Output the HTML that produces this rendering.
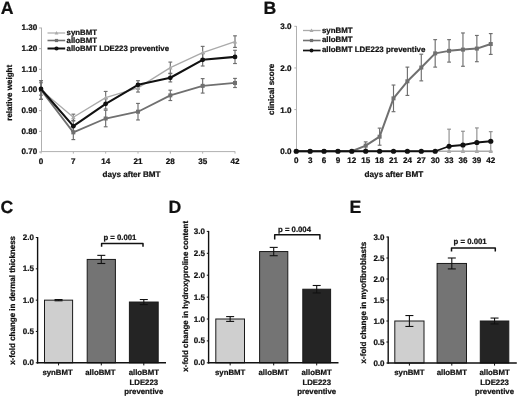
<!DOCTYPE html>
<html><head><meta charset="utf-8"><style>
html,body{margin:0;padding:0;background:#fff;width:520px;height:398px;overflow:hidden}
svg{display:block;font-family:"Liberation Sans", sans-serif;will-change:transform}
text{stroke:#111;stroke-width:0.22px;text-rendering:geometricPrecision}
</style></head><body>
<svg width="520" height="398" viewBox="0 0 520 398">
<rect width="520" height="398" fill="#fff"/>
<text x="0.80" y="13.80" font-size="17.7" text-anchor="start" fill="#111" font-weight="bold" >A</text>
<line x1="41.50" y1="27.68" x2="41.50" y2="151.90" stroke="#b0b0b0" stroke-width="1" />
<line x1="41.50" y1="151.60" x2="235.20" y2="151.60" stroke="#b0b0b0" stroke-width="1" />
<line x1="39.00" y1="152.00" x2="41.50" y2="152.00" stroke="#b0b0b0" stroke-width="1" />
<text x="37.30" y="154.20" font-size="8.1" text-anchor="end" fill="#111" font-weight="bold" >0.70</text>
<line x1="39.00" y1="131.33" x2="41.50" y2="131.33" stroke="#b0b0b0" stroke-width="1" />
<text x="37.30" y="133.53" font-size="8.1" text-anchor="end" fill="#111" font-weight="bold" >0.80</text>
<line x1="39.00" y1="110.66" x2="41.50" y2="110.66" stroke="#b0b0b0" stroke-width="1" />
<text x="37.30" y="112.86" font-size="8.1" text-anchor="end" fill="#111" font-weight="bold" >0.90</text>
<line x1="39.00" y1="89.99" x2="41.50" y2="89.99" stroke="#b0b0b0" stroke-width="1" />
<text x="37.30" y="92.19" font-size="8.1" text-anchor="end" fill="#111" font-weight="bold" >1.00</text>
<line x1="39.00" y1="69.32" x2="41.50" y2="69.32" stroke="#b0b0b0" stroke-width="1" />
<text x="37.30" y="71.52" font-size="8.1" text-anchor="end" fill="#111" font-weight="bold" >1.10</text>
<line x1="39.00" y1="48.65" x2="41.50" y2="48.65" stroke="#b0b0b0" stroke-width="1" />
<text x="37.30" y="50.85" font-size="8.1" text-anchor="end" fill="#111" font-weight="bold" >1.20</text>
<line x1="39.00" y1="27.98" x2="41.50" y2="27.98" stroke="#b0b0b0" stroke-width="1" />
<text x="37.30" y="30.18" font-size="8.1" text-anchor="end" fill="#111" font-weight="bold" >1.30</text>
<line x1="41.00" y1="151.60" x2="41.00" y2="153.60" stroke="#b0b0b0" stroke-width="1" />
<text x="41.00" y="163.60" font-size="8.1" text-anchor="middle" fill="#111" font-weight="bold" >0</text>
<line x1="73.33" y1="151.60" x2="73.33" y2="153.60" stroke="#b0b0b0" stroke-width="1" />
<text x="73.33" y="163.60" font-size="8.1" text-anchor="middle" fill="#111" font-weight="bold" >7</text>
<line x1="105.67" y1="151.60" x2="105.67" y2="153.60" stroke="#b0b0b0" stroke-width="1" />
<text x="105.67" y="163.60" font-size="8.1" text-anchor="middle" fill="#111" font-weight="bold" >14</text>
<line x1="138.00" y1="151.60" x2="138.00" y2="153.60" stroke="#b0b0b0" stroke-width="1" />
<text x="138.00" y="163.60" font-size="8.1" text-anchor="middle" fill="#111" font-weight="bold" >21</text>
<line x1="170.33" y1="151.60" x2="170.33" y2="153.60" stroke="#b0b0b0" stroke-width="1" />
<text x="170.33" y="163.60" font-size="8.1" text-anchor="middle" fill="#111" font-weight="bold" >28</text>
<line x1="202.67" y1="151.60" x2="202.67" y2="153.60" stroke="#b0b0b0" stroke-width="1" />
<text x="202.67" y="163.60" font-size="8.1" text-anchor="middle" fill="#111" font-weight="bold" >35</text>
<line x1="235.00" y1="151.60" x2="235.00" y2="153.60" stroke="#b0b0b0" stroke-width="1" />
<text x="235.00" y="163.60" font-size="8.1" text-anchor="middle" fill="#111" font-weight="bold" >42</text>
<text x="131.50" y="176.80" font-size="8.1" text-anchor="middle" fill="#111" font-weight="bold" >days after BMT</text>
<text x="0.00" y="0.00" font-size="8.05" text-anchor="middle" fill="#111" font-weight="bold" transform="translate(12.2,92.8) rotate(-90)">relative weight</text>
<line x1="41.00" y1="80.69" x2="41.00" y2="99.29" stroke="#6e6e6e" stroke-width="1.15" />
<line x1="39.10" y1="80.69" x2="42.90" y2="80.69" stroke="#6e6e6e" stroke-width="1.15" />
<line x1="39.10" y1="99.29" x2="42.90" y2="99.29" stroke="#6e6e6e" stroke-width="1.15" />
<line x1="73.33" y1="114.17" x2="73.33" y2="120.37" stroke="#6e6e6e" stroke-width="1.15" />
<line x1="71.43" y1="114.17" x2="75.23" y2="114.17" stroke="#6e6e6e" stroke-width="1.15" />
<line x1="71.43" y1="120.37" x2="75.23" y2="120.37" stroke="#6e6e6e" stroke-width="1.15" />
<line x1="105.67" y1="91.44" x2="105.67" y2="103.84" stroke="#6e6e6e" stroke-width="1.15" />
<line x1="103.77" y1="91.44" x2="107.57" y2="91.44" stroke="#6e6e6e" stroke-width="1.15" />
<line x1="103.77" y1="103.84" x2="107.57" y2="103.84" stroke="#6e6e6e" stroke-width="1.15" />
<line x1="138.00" y1="83.79" x2="138.00" y2="92.06" stroke="#6e6e6e" stroke-width="1.15" />
<line x1="136.10" y1="83.79" x2="139.90" y2="83.79" stroke="#6e6e6e" stroke-width="1.15" />
<line x1="136.10" y1="92.06" x2="139.90" y2="92.06" stroke="#6e6e6e" stroke-width="1.15" />
<line x1="170.33" y1="62.09" x2="170.33" y2="73.25" stroke="#6e6e6e" stroke-width="1.15" />
<line x1="168.43" y1="62.09" x2="172.23" y2="62.09" stroke="#6e6e6e" stroke-width="1.15" />
<line x1="168.43" y1="73.25" x2="172.23" y2="73.25" stroke="#6e6e6e" stroke-width="1.15" />
<line x1="202.67" y1="46.38" x2="202.67" y2="58.78" stroke="#6e6e6e" stroke-width="1.15" />
<line x1="200.77" y1="46.38" x2="204.57" y2="46.38" stroke="#6e6e6e" stroke-width="1.15" />
<line x1="200.77" y1="58.78" x2="204.57" y2="58.78" stroke="#6e6e6e" stroke-width="1.15" />
<line x1="235.00" y1="35.83" x2="235.00" y2="47.41" stroke="#6e6e6e" stroke-width="1.15" />
<line x1="233.10" y1="35.83" x2="236.90" y2="35.83" stroke="#6e6e6e" stroke-width="1.15" />
<line x1="233.10" y1="47.41" x2="236.90" y2="47.41" stroke="#6e6e6e" stroke-width="1.15" />
<line x1="41.00" y1="80.69" x2="41.00" y2="99.29" stroke="#6e6e6e" stroke-width="1.15" />
<line x1="39.10" y1="80.69" x2="42.90" y2="80.69" stroke="#6e6e6e" stroke-width="1.15" />
<line x1="39.10" y1="99.29" x2="42.90" y2="99.29" stroke="#6e6e6e" stroke-width="1.15" />
<line x1="73.33" y1="125.13" x2="73.33" y2="139.60" stroke="#6e6e6e" stroke-width="1.15" />
<line x1="71.43" y1="125.13" x2="75.23" y2="125.13" stroke="#6e6e6e" stroke-width="1.15" />
<line x1="71.43" y1="139.60" x2="75.23" y2="139.60" stroke="#6e6e6e" stroke-width="1.15" />
<line x1="105.67" y1="110.25" x2="105.67" y2="126.78" stroke="#6e6e6e" stroke-width="1.15" />
<line x1="103.77" y1="110.25" x2="107.57" y2="110.25" stroke="#6e6e6e" stroke-width="1.15" />
<line x1="103.77" y1="126.78" x2="107.57" y2="126.78" stroke="#6e6e6e" stroke-width="1.15" />
<line x1="138.00" y1="103.43" x2="138.00" y2="119.96" stroke="#6e6e6e" stroke-width="1.15" />
<line x1="136.10" y1="103.43" x2="139.90" y2="103.43" stroke="#6e6e6e" stroke-width="1.15" />
<line x1="136.10" y1="119.96" x2="139.90" y2="119.96" stroke="#6e6e6e" stroke-width="1.15" />
<line x1="170.33" y1="90.20" x2="170.33" y2="100.53" stroke="#6e6e6e" stroke-width="1.15" />
<line x1="168.43" y1="90.20" x2="172.23" y2="90.20" stroke="#6e6e6e" stroke-width="1.15" />
<line x1="168.43" y1="100.53" x2="172.23" y2="100.53" stroke="#6e6e6e" stroke-width="1.15" />
<line x1="202.67" y1="78.62" x2="202.67" y2="93.09" stroke="#6e6e6e" stroke-width="1.15" />
<line x1="200.77" y1="78.62" x2="204.57" y2="78.62" stroke="#6e6e6e" stroke-width="1.15" />
<line x1="200.77" y1="93.09" x2="204.57" y2="93.09" stroke="#6e6e6e" stroke-width="1.15" />
<line x1="235.00" y1="78.41" x2="235.00" y2="87.51" stroke="#6e6e6e" stroke-width="1.15" />
<line x1="233.10" y1="78.41" x2="236.90" y2="78.41" stroke="#6e6e6e" stroke-width="1.15" />
<line x1="233.10" y1="87.51" x2="236.90" y2="87.51" stroke="#6e6e6e" stroke-width="1.15" />
<line x1="41.00" y1="82.76" x2="41.00" y2="95.16" stroke="#6e6e6e" stroke-width="1.15" />
<line x1="39.10" y1="82.76" x2="42.90" y2="82.76" stroke="#6e6e6e" stroke-width="1.15" />
<line x1="39.10" y1="95.16" x2="42.90" y2="95.16" stroke="#6e6e6e" stroke-width="1.15" />
<line x1="73.33" y1="121.00" x2="73.33" y2="131.33" stroke="#6e6e6e" stroke-width="1.15" />
<line x1="71.43" y1="121.00" x2="75.23" y2="121.00" stroke="#6e6e6e" stroke-width="1.15" />
<line x1="71.43" y1="131.33" x2="75.23" y2="131.33" stroke="#6e6e6e" stroke-width="1.15" />
<line x1="105.67" y1="98.67" x2="105.67" y2="109.01" stroke="#6e6e6e" stroke-width="1.15" />
<line x1="103.77" y1="98.67" x2="107.57" y2="98.67" stroke="#6e6e6e" stroke-width="1.15" />
<line x1="103.77" y1="109.01" x2="107.57" y2="109.01" stroke="#6e6e6e" stroke-width="1.15" />
<line x1="138.00" y1="80.69" x2="138.00" y2="88.96" stroke="#6e6e6e" stroke-width="1.15" />
<line x1="136.10" y1="80.69" x2="139.90" y2="80.69" stroke="#6e6e6e" stroke-width="1.15" />
<line x1="136.10" y1="88.96" x2="139.90" y2="88.96" stroke="#6e6e6e" stroke-width="1.15" />
<line x1="170.33" y1="73.66" x2="170.33" y2="81.93" stroke="#6e6e6e" stroke-width="1.15" />
<line x1="168.43" y1="73.66" x2="172.23" y2="73.66" stroke="#6e6e6e" stroke-width="1.15" />
<line x1="168.43" y1="81.93" x2="172.23" y2="81.93" stroke="#6e6e6e" stroke-width="1.15" />
<line x1="202.67" y1="53.61" x2="202.67" y2="66.01" stroke="#6e6e6e" stroke-width="1.15" />
<line x1="200.77" y1="53.61" x2="204.57" y2="53.61" stroke="#6e6e6e" stroke-width="1.15" />
<line x1="200.77" y1="66.01" x2="204.57" y2="66.01" stroke="#6e6e6e" stroke-width="1.15" />
<line x1="235.00" y1="50.30" x2="235.00" y2="63.53" stroke="#6e6e6e" stroke-width="1.15" />
<line x1="233.10" y1="50.30" x2="236.90" y2="50.30" stroke="#6e6e6e" stroke-width="1.15" />
<line x1="233.10" y1="63.53" x2="236.90" y2="63.53" stroke="#6e6e6e" stroke-width="1.15" />
<polyline points="41.00,89.99 73.33,117.27 105.67,97.64 138.00,87.92 170.33,67.67 202.67,52.58 235.00,41.62" fill="none" stroke="#aaaaaa" stroke-width="1.3" stroke-linejoin="round"/>
<path d="M38.80,91.75 L43.20,91.75 L41.00,87.79 Z" fill="#aaaaaa"/>
<path d="M71.13,119.03 L75.53,119.03 L73.33,115.07 Z" fill="#aaaaaa"/>
<path d="M103.47,99.40 L107.87,99.40 L105.67,95.44 Z" fill="#aaaaaa"/>
<path d="M135.80,89.68 L140.20,89.68 L138.00,85.72 Z" fill="#aaaaaa"/>
<path d="M168.13,69.43 L172.53,69.43 L170.33,65.47 Z" fill="#aaaaaa"/>
<path d="M200.47,54.34 L204.87,54.34 L202.67,50.38 Z" fill="#aaaaaa"/>
<path d="M232.80,43.38 L237.20,43.38 L235.00,39.42 Z" fill="#aaaaaa"/>
<polyline points="41.00,89.99 73.33,132.36 105.67,118.51 138.00,111.69 170.33,95.36 202.67,85.86 235.00,82.96" fill="none" stroke="#707070" stroke-width="1.8" stroke-linejoin="round"/>
<rect x="39.00" y="87.99" width="4.00" height="4.00" fill="#707070"/>
<rect x="71.33" y="130.36" width="4.00" height="4.00" fill="#707070"/>
<rect x="103.67" y="116.51" width="4.00" height="4.00" fill="#707070"/>
<rect x="136.00" y="109.69" width="4.00" height="4.00" fill="#707070"/>
<rect x="168.33" y="93.36" width="4.00" height="4.00" fill="#707070"/>
<rect x="200.67" y="83.86" width="4.00" height="4.00" fill="#707070"/>
<rect x="233.00" y="80.96" width="4.00" height="4.00" fill="#707070"/>
<polyline points="41.00,88.96 73.33,126.16 105.67,103.84 138.00,84.82 170.33,77.79 202.67,59.81 235.00,56.92" fill="none" stroke="#111111" stroke-width="2.1" stroke-linejoin="round"/>
<circle cx="41.00" cy="88.96" r="2.4" fill="#111111"/>
<circle cx="73.33" cy="126.16" r="2.4" fill="#111111"/>
<circle cx="105.67" cy="103.84" r="2.4" fill="#111111"/>
<circle cx="138.00" cy="84.82" r="2.4" fill="#111111"/>
<circle cx="170.33" cy="77.79" r="2.4" fill="#111111"/>
<circle cx="202.67" cy="59.81" r="2.4" fill="#111111"/>
<circle cx="235.00" cy="56.92" r="2.4" fill="#111111"/>
<line x1="47.50" y1="33.00" x2="65.20" y2="33.00" stroke="#aaaaaa" stroke-width="1.2" />
<path d="M54.60,34.52 L58.40,34.52 L56.50,31.10 Z" fill="#aaaaaa"/>
<text x="66.60" y="35.30" font-size="7.82" text-anchor="start" fill="#111" font-weight="bold" >synBMT</text>
<line x1="47.50" y1="40.50" x2="65.20" y2="40.50" stroke="#707070" stroke-width="1.6" />
<rect x="54.90" y="38.90" width="3.20" height="3.20" fill="#707070"/>
<text x="66.60" y="42.90" font-size="7.82" text-anchor="start" fill="#111" font-weight="bold" >alloBMT</text>
<line x1="47.50" y1="48.50" x2="65.20" y2="48.50" stroke="#111111" stroke-width="2.0" />
<circle cx="56.50" cy="48.50" r="2.1" fill="#111111"/>
<text x="66.60" y="50.70" font-size="7.82" text-anchor="start" fill="#111" font-weight="bold" >alloBMT LDE223 preventive</text>
<text x="263.50" y="13.80" font-size="17.7" text-anchor="start" fill="#111" font-weight="bold" >B</text>
<line x1="296.50" y1="26.00" x2="296.50" y2="151.50" stroke="#b0b0b0" stroke-width="1" />
<line x1="296.50" y1="151.50" x2="491.00" y2="151.50" stroke="#b0b0b0" stroke-width="1" />
<line x1="294.30" y1="151.25" x2="296.50" y2="151.25" stroke="#b0b0b0" stroke-width="1" />
<text x="291.50" y="154.15" font-size="8.1" text-anchor="end" fill="#111" font-weight="bold" >0.0</text>
<line x1="294.30" y1="109.60" x2="296.50" y2="109.60" stroke="#b0b0b0" stroke-width="1" />
<text x="291.50" y="112.50" font-size="8.1" text-anchor="end" fill="#111" font-weight="bold" >1.0</text>
<line x1="294.30" y1="67.95" x2="296.50" y2="67.95" stroke="#b0b0b0" stroke-width="1" />
<text x="291.50" y="70.85" font-size="8.1" text-anchor="end" fill="#111" font-weight="bold" >2.0</text>
<line x1="294.30" y1="26.30" x2="296.50" y2="26.30" stroke="#b0b0b0" stroke-width="1" />
<text x="291.50" y="29.20" font-size="8.1" text-anchor="end" fill="#111" font-weight="bold" >3.0</text>
<text x="296.25" y="162.80" font-size="8.1" text-anchor="middle" fill="#111" font-weight="bold" >0</text>
<text x="310.14" y="162.80" font-size="8.1" text-anchor="middle" fill="#111" font-weight="bold" >3</text>
<text x="324.04" y="162.80" font-size="8.1" text-anchor="middle" fill="#111" font-weight="bold" >6</text>
<text x="337.93" y="162.80" font-size="8.1" text-anchor="middle" fill="#111" font-weight="bold" >9</text>
<text x="351.82" y="162.80" font-size="8.1" text-anchor="middle" fill="#111" font-weight="bold" >12</text>
<text x="365.71" y="162.80" font-size="8.1" text-anchor="middle" fill="#111" font-weight="bold" >15</text>
<text x="379.61" y="162.80" font-size="8.1" text-anchor="middle" fill="#111" font-weight="bold" >18</text>
<text x="393.50" y="162.80" font-size="8.1" text-anchor="middle" fill="#111" font-weight="bold" >21</text>
<text x="407.39" y="162.80" font-size="8.1" text-anchor="middle" fill="#111" font-weight="bold" >24</text>
<text x="421.29" y="162.80" font-size="8.1" text-anchor="middle" fill="#111" font-weight="bold" >27</text>
<text x="435.18" y="162.80" font-size="8.1" text-anchor="middle" fill="#111" font-weight="bold" >30</text>
<text x="449.07" y="162.80" font-size="8.1" text-anchor="middle" fill="#111" font-weight="bold" >33</text>
<text x="462.96" y="162.80" font-size="8.1" text-anchor="middle" fill="#111" font-weight="bold" >36</text>
<text x="476.86" y="162.80" font-size="8.1" text-anchor="middle" fill="#111" font-weight="bold" >39</text>
<text x="490.75" y="162.80" font-size="8.1" text-anchor="middle" fill="#111" font-weight="bold" >42</text>
<text x="393.90" y="176.80" font-size="8.2" text-anchor="middle" fill="#111" font-weight="bold" >days after BMT</text>
<text x="0.00" y="0.00" font-size="8.1" text-anchor="middle" fill="#111" font-weight="bold" transform="translate(274.2,89.3) rotate(-90)">clinical score</text>
<line x1="365.71" y1="141.88" x2="365.71" y2="149.38" stroke="#6e6e6e" stroke-width="1.15" />
<line x1="363.81" y1="141.88" x2="367.61" y2="141.88" stroke="#6e6e6e" stroke-width="1.15" />
<line x1="363.81" y1="149.38" x2="367.61" y2="149.38" stroke="#6e6e6e" stroke-width="1.15" />
<line x1="379.61" y1="128.13" x2="379.61" y2="145.21" stroke="#6e6e6e" stroke-width="1.15" />
<line x1="377.71" y1="128.13" x2="381.51" y2="128.13" stroke="#6e6e6e" stroke-width="1.15" />
<line x1="377.71" y1="145.21" x2="381.51" y2="145.21" stroke="#6e6e6e" stroke-width="1.15" />
<line x1="393.50" y1="85.03" x2="393.50" y2="111.68" stroke="#6e6e6e" stroke-width="1.15" />
<line x1="391.60" y1="85.03" x2="395.40" y2="85.03" stroke="#6e6e6e" stroke-width="1.15" />
<line x1="391.60" y1="111.68" x2="395.40" y2="111.68" stroke="#6e6e6e" stroke-width="1.15" />
<line x1="407.39" y1="67.12" x2="407.39" y2="95.44" stroke="#6e6e6e" stroke-width="1.15" />
<line x1="405.49" y1="67.12" x2="409.29" y2="67.12" stroke="#6e6e6e" stroke-width="1.15" />
<line x1="405.49" y1="95.44" x2="409.29" y2="95.44" stroke="#6e6e6e" stroke-width="1.15" />
<line x1="421.29" y1="54.21" x2="421.29" y2="80.86" stroke="#6e6e6e" stroke-width="1.15" />
<line x1="419.39" y1="54.21" x2="423.19" y2="54.21" stroke="#6e6e6e" stroke-width="1.15" />
<line x1="419.39" y1="80.86" x2="423.19" y2="80.86" stroke="#6e6e6e" stroke-width="1.15" />
<line x1="435.18" y1="39.63" x2="435.18" y2="67.12" stroke="#6e6e6e" stroke-width="1.15" />
<line x1="433.28" y1="39.63" x2="437.08" y2="39.63" stroke="#6e6e6e" stroke-width="1.15" />
<line x1="433.28" y1="67.12" x2="437.08" y2="67.12" stroke="#6e6e6e" stroke-width="1.15" />
<line x1="449.07" y1="39.63" x2="449.07" y2="62.12" stroke="#6e6e6e" stroke-width="1.15" />
<line x1="447.17" y1="39.63" x2="450.97" y2="39.63" stroke="#6e6e6e" stroke-width="1.15" />
<line x1="447.17" y1="62.12" x2="450.97" y2="62.12" stroke="#6e6e6e" stroke-width="1.15" />
<line x1="462.96" y1="32.96" x2="462.96" y2="66.28" stroke="#6e6e6e" stroke-width="1.15" />
<line x1="461.06" y1="32.96" x2="464.86" y2="32.96" stroke="#6e6e6e" stroke-width="1.15" />
<line x1="461.06" y1="66.28" x2="464.86" y2="66.28" stroke="#6e6e6e" stroke-width="1.15" />
<line x1="476.86" y1="35.46" x2="476.86" y2="61.70" stroke="#6e6e6e" stroke-width="1.15" />
<line x1="474.96" y1="35.46" x2="478.76" y2="35.46" stroke="#6e6e6e" stroke-width="1.15" />
<line x1="474.96" y1="61.70" x2="478.76" y2="61.70" stroke="#6e6e6e" stroke-width="1.15" />
<line x1="490.75" y1="33.59" x2="490.75" y2="54.41" stroke="#6e6e6e" stroke-width="1.15" />
<line x1="488.85" y1="33.59" x2="492.65" y2="33.59" stroke="#6e6e6e" stroke-width="1.15" />
<line x1="488.85" y1="54.41" x2="492.65" y2="54.41" stroke="#6e6e6e" stroke-width="1.15" />
<line x1="449.07" y1="129.18" x2="449.07" y2="151.25" stroke="#8e8e8e" stroke-width="1.15" />
<line x1="447.17" y1="129.18" x2="450.97" y2="129.18" stroke="#8e8e8e" stroke-width="1.15" />
<line x1="447.17" y1="151.25" x2="450.97" y2="151.25" stroke="#8e8e8e" stroke-width="1.15" />
<line x1="462.96" y1="131.26" x2="462.96" y2="151.25" stroke="#8e8e8e" stroke-width="1.15" />
<line x1="461.06" y1="131.26" x2="464.86" y2="131.26" stroke="#8e8e8e" stroke-width="1.15" />
<line x1="461.06" y1="151.25" x2="464.86" y2="151.25" stroke="#8e8e8e" stroke-width="1.15" />
<line x1="476.86" y1="127.93" x2="476.86" y2="151.25" stroke="#8e8e8e" stroke-width="1.15" />
<line x1="474.96" y1="127.93" x2="478.76" y2="127.93" stroke="#8e8e8e" stroke-width="1.15" />
<line x1="474.96" y1="151.25" x2="478.76" y2="151.25" stroke="#8e8e8e" stroke-width="1.15" />
<line x1="490.75" y1="131.67" x2="490.75" y2="151.25" stroke="#8e8e8e" stroke-width="1.15" />
<line x1="488.85" y1="131.67" x2="492.65" y2="131.67" stroke="#8e8e8e" stroke-width="1.15" />
<line x1="488.85" y1="151.25" x2="492.65" y2="151.25" stroke="#8e8e8e" stroke-width="1.15" />
<polyline points="296.25,151.25 310.14,151.25 324.04,151.25 337.93,151.25 351.82,151.25 365.71,151.25 379.61,151.25 393.50,151.25 407.39,151.25 421.29,151.25 435.18,151.25 449.07,151.25 462.96,151.25 476.86,151.25 490.75,151.25" fill="none" stroke="#aaaaaa" stroke-width="1.4" stroke-linejoin="round"/>
<path d="M294.05,153.01 L298.45,153.01 L296.25,149.05 Z" fill="#aaaaaa"/>
<path d="M307.94,153.01 L312.34,153.01 L310.14,149.05 Z" fill="#aaaaaa"/>
<path d="M321.84,153.01 L326.24,153.01 L324.04,149.05 Z" fill="#aaaaaa"/>
<path d="M335.73,153.01 L340.13,153.01 L337.93,149.05 Z" fill="#aaaaaa"/>
<path d="M349.62,153.01 L354.02,153.01 L351.82,149.05 Z" fill="#aaaaaa"/>
<path d="M363.51,153.01 L367.91,153.01 L365.71,149.05 Z" fill="#aaaaaa"/>
<path d="M377.41,153.01 L381.81,153.01 L379.61,149.05 Z" fill="#aaaaaa"/>
<path d="M391.30,153.01 L395.70,153.01 L393.50,149.05 Z" fill="#aaaaaa"/>
<path d="M405.19,153.01 L409.59,153.01 L407.39,149.05 Z" fill="#aaaaaa"/>
<path d="M419.09,153.01 L423.49,153.01 L421.29,149.05 Z" fill="#aaaaaa"/>
<path d="M432.98,153.01 L437.38,153.01 L435.18,149.05 Z" fill="#aaaaaa"/>
<path d="M446.87,153.01 L451.27,153.01 L449.07,149.05 Z" fill="#aaaaaa"/>
<path d="M460.76,153.01 L465.16,153.01 L462.96,149.05 Z" fill="#aaaaaa"/>
<path d="M474.66,153.01 L479.06,153.01 L476.86,149.05 Z" fill="#aaaaaa"/>
<path d="M488.55,153.01 L492.95,153.01 L490.75,149.05 Z" fill="#aaaaaa"/>
<polyline points="296.25,151.25 310.14,151.25 324.04,151.25 337.93,151.25 351.82,151.25 365.71,145.63 379.61,136.67 393.50,98.35 407.39,81.28 421.29,67.53 435.18,53.37 449.07,50.87 462.96,49.62 476.86,48.58 490.75,44.00" fill="none" stroke="#707070" stroke-width="2" stroke-linejoin="round"/>
<rect x="294.25" y="149.25" width="4.00" height="4.00" fill="#707070"/>
<rect x="308.14" y="149.25" width="4.00" height="4.00" fill="#707070"/>
<rect x="322.04" y="149.25" width="4.00" height="4.00" fill="#707070"/>
<rect x="335.93" y="149.25" width="4.00" height="4.00" fill="#707070"/>
<rect x="349.82" y="149.25" width="4.00" height="4.00" fill="#707070"/>
<rect x="363.71" y="143.63" width="4.00" height="4.00" fill="#707070"/>
<rect x="377.61" y="134.67" width="4.00" height="4.00" fill="#707070"/>
<rect x="391.50" y="96.35" width="4.00" height="4.00" fill="#707070"/>
<rect x="405.39" y="79.28" width="4.00" height="4.00" fill="#707070"/>
<rect x="419.29" y="65.53" width="4.00" height="4.00" fill="#707070"/>
<rect x="433.18" y="51.37" width="4.00" height="4.00" fill="#707070"/>
<rect x="447.07" y="48.87" width="4.00" height="4.00" fill="#707070"/>
<rect x="460.96" y="47.62" width="4.00" height="4.00" fill="#707070"/>
<rect x="474.86" y="46.58" width="4.00" height="4.00" fill="#707070"/>
<rect x="488.75" y="42.00" width="4.00" height="4.00" fill="#707070"/>
<polyline points="296.25,151.25 310.14,151.25 324.04,151.25 337.93,151.25 351.82,151.25 365.71,151.25 379.61,151.25 393.50,151.25 407.39,151.25 421.29,151.25 435.18,151.25 449.07,146.25 462.96,145.00 476.86,142.50 490.75,141.25" fill="none" stroke="#111111" stroke-width="1.8" stroke-linejoin="round"/>
<circle cx="296.25" cy="151.25" r="2.6" fill="#111111"/>
<circle cx="310.14" cy="151.25" r="2.6" fill="#111111"/>
<circle cx="324.04" cy="151.25" r="2.6" fill="#111111"/>
<circle cx="337.93" cy="151.25" r="2.6" fill="#111111"/>
<circle cx="351.82" cy="151.25" r="2.6" fill="#111111"/>
<circle cx="365.71" cy="151.25" r="2.6" fill="#111111"/>
<circle cx="379.61" cy="151.25" r="2.6" fill="#111111"/>
<circle cx="393.50" cy="151.25" r="2.6" fill="#111111"/>
<circle cx="407.39" cy="151.25" r="2.6" fill="#111111"/>
<circle cx="421.29" cy="151.25" r="2.6" fill="#111111"/>
<circle cx="435.18" cy="151.25" r="2.6" fill="#111111"/>
<circle cx="449.07" cy="146.25" r="2.6" fill="#111111"/>
<circle cx="462.96" cy="145.00" r="2.6" fill="#111111"/>
<circle cx="476.86" cy="142.50" r="2.6" fill="#111111"/>
<circle cx="490.75" cy="141.25" r="2.6" fill="#111111"/>
<line x1="303.00" y1="30.50" x2="320.60" y2="30.50" stroke="#aaaaaa" stroke-width="1.3" />
<path d="M309.50,32.10 L313.50,32.10 L311.50,28.50 Z" fill="#aaaaaa"/>
<text x="321.90" y="32.70" font-size="7.9" text-anchor="start" fill="#111" font-weight="bold" >synBMT</text>
<line x1="303.00" y1="40.50" x2="320.60" y2="40.50" stroke="#707070" stroke-width="1.6" />
<rect x="309.90" y="38.90" width="3.20" height="3.20" fill="#707070"/>
<text x="321.90" y="42.10" font-size="7.9" text-anchor="start" fill="#111" font-weight="bold" >alloBMT</text>
<line x1="303.00" y1="50.50" x2="320.60" y2="50.50" stroke="#111111" stroke-width="1.7" />
<circle cx="311.50" cy="50.50" r="1.9" fill="#111111"/>
<text x="321.90" y="52.20" font-size="7.9" text-anchor="start" fill="#111" font-weight="bold" >alloBMT LDE223 preventive</text>
<text x="0.60" y="213.10" font-size="17.7" text-anchor="start" fill="#111" font-weight="bold" >C</text>
<rect x="44.50" y="300.15" width="28.10" height="62.65" fill="#cfcfcf" stroke="#1a1a1a" stroke-width="1"/>
<rect x="87.20" y="259.43" width="28.20" height="103.37" fill="#747474" stroke="#1a1a1a" stroke-width="1"/>
<rect x="129.40" y="302.03" width="28.80" height="60.77" fill="#242424" stroke="#1a1a1a" stroke-width="1"/>
<line x1="58.55" y1="299.52" x2="58.55" y2="300.78" stroke="#111" stroke-width="1.1" />
<line x1="54.55" y1="299.52" x2="62.55" y2="299.52" stroke="#111" stroke-width="1.1" />
<line x1="54.55" y1="300.78" x2="62.55" y2="300.78" stroke="#111" stroke-width="1.1" />
<line x1="101.30" y1="255.36" x2="101.30" y2="263.50" stroke="#111" stroke-width="1.1" />
<line x1="97.30" y1="255.36" x2="105.30" y2="255.36" stroke="#111" stroke-width="1.1" />
<line x1="97.30" y1="263.50" x2="105.30" y2="263.50" stroke="#111" stroke-width="1.1" />
<line x1="143.80" y1="299.52" x2="143.80" y2="304.54" stroke="#111" stroke-width="1.1" />
<line x1="139.80" y1="299.52" x2="147.80" y2="299.52" stroke="#111" stroke-width="1.1" />
<line x1="139.80" y1="304.54" x2="147.80" y2="304.54" stroke="#111" stroke-width="1.1" />
<line x1="37.60" y1="237.00" x2="37.60" y2="363.50" stroke="#111" stroke-width="1.4" />
<line x1="36.90" y1="362.80" x2="166.00" y2="362.80" stroke="#111" stroke-width="1.4" />
<line x1="35.80" y1="362.80" x2="37.60" y2="362.80" stroke="#111" stroke-width="1" />
<text x="33.90" y="365.30" font-size="8" text-anchor="end" fill="#111" font-weight="bold" >0.0</text>
<line x1="35.80" y1="331.48" x2="37.60" y2="331.48" stroke="#111" stroke-width="1" />
<text x="33.90" y="333.98" font-size="8" text-anchor="end" fill="#111" font-weight="bold" >0.5</text>
<line x1="35.80" y1="300.15" x2="37.60" y2="300.15" stroke="#111" stroke-width="1" />
<text x="33.90" y="302.65" font-size="8" text-anchor="end" fill="#111" font-weight="bold" >1.0</text>
<line x1="35.80" y1="268.83" x2="37.60" y2="268.83" stroke="#111" stroke-width="1" />
<text x="33.90" y="271.33" font-size="8" text-anchor="end" fill="#111" font-weight="bold" >1.5</text>
<line x1="35.80" y1="237.50" x2="37.60" y2="237.50" stroke="#111" stroke-width="1" />
<text x="33.90" y="240.00" font-size="8" text-anchor="end" fill="#111" font-weight="bold" >2.0</text>
<line x1="58.55" y1="362.80" x2="58.55" y2="365.40" stroke="#111" stroke-width="1" />
<line x1="101.30" y1="362.80" x2="101.30" y2="365.40" stroke="#111" stroke-width="1" />
<line x1="143.80" y1="362.80" x2="143.80" y2="365.40" stroke="#111" stroke-width="1" />
<path d="M101.60,246.80 L101.60,243.40 L143.00,243.40 L143.00,246.80" fill="none" stroke="#111" stroke-width="1.5" stroke-linejoin="round"/>
<text x="119.90" y="240.00" font-size="7.75" text-anchor="middle" fill="#111" font-weight="bold" >p = 0.001</text>
<text x="57.55" y="375.30" font-size="7.8" text-anchor="middle" fill="#111" font-weight="bold" >synBMT</text>
<text x="100.40" y="375.30" font-size="7.8" text-anchor="middle" fill="#111" font-weight="bold" >alloBMT</text>
<text x="143.80" y="375.30" font-size="7.8" text-anchor="middle" fill="#111" font-weight="bold" >alloBMT</text>
<text x="143.80" y="384.60" font-size="7.8" text-anchor="middle" fill="#111" font-weight="bold" >LDE223</text>
<text x="143.80" y="393.50" font-size="7.8" text-anchor="middle" fill="#111" font-weight="bold" >preventive</text>
<text x="0.00" y="0.00" font-size="8" text-anchor="middle" fill="#111" font-weight="bold" transform="translate(15.1,300.4) rotate(-90)">x-fold change in dermal thickness</text>
<text x="168.50" y="213.10" font-size="17.7" text-anchor="start" fill="#111" font-weight="bold" >D</text>
<rect x="215.80" y="319.00" width="28.70" height="43.80" fill="#cfcfcf" stroke="#1a1a1a" stroke-width="1"/>
<rect x="259.60" y="251.55" width="28.20" height="111.25" fill="#747474" stroke="#1a1a1a" stroke-width="1"/>
<rect x="302.80" y="289.22" width="27.80" height="73.58" fill="#242424" stroke="#1a1a1a" stroke-width="1"/>
<line x1="230.15" y1="316.59" x2="230.15" y2="321.41" stroke="#111" stroke-width="1.1" />
<line x1="226.15" y1="316.59" x2="234.15" y2="316.59" stroke="#111" stroke-width="1.1" />
<line x1="226.15" y1="321.41" x2="234.15" y2="321.41" stroke="#111" stroke-width="1.1" />
<line x1="273.70" y1="247.39" x2="273.70" y2="255.71" stroke="#111" stroke-width="1.1" />
<line x1="269.70" y1="247.39" x2="277.70" y2="247.39" stroke="#111" stroke-width="1.1" />
<line x1="269.70" y1="255.71" x2="277.70" y2="255.71" stroke="#111" stroke-width="1.1" />
<line x1="316.70" y1="285.49" x2="316.70" y2="292.94" stroke="#111" stroke-width="1.1" />
<line x1="312.70" y1="285.49" x2="320.70" y2="285.49" stroke="#111" stroke-width="1.1" />
<line x1="312.70" y1="292.94" x2="320.70" y2="292.94" stroke="#111" stroke-width="1.1" />
<line x1="208.60" y1="230.90" x2="208.60" y2="363.50" stroke="#111" stroke-width="1.4" />
<line x1="207.90" y1="362.80" x2="338.50" y2="362.80" stroke="#111" stroke-width="1.4" />
<line x1="206.80" y1="362.80" x2="208.60" y2="362.80" stroke="#111" stroke-width="1" />
<text x="204.90" y="365.30" font-size="8" text-anchor="end" fill="#111" font-weight="bold" >0.0</text>
<line x1="206.80" y1="340.90" x2="208.60" y2="340.90" stroke="#111" stroke-width="1" />
<text x="204.90" y="343.40" font-size="8" text-anchor="end" fill="#111" font-weight="bold" >0.5</text>
<line x1="206.80" y1="319.00" x2="208.60" y2="319.00" stroke="#111" stroke-width="1" />
<text x="204.90" y="321.50" font-size="8" text-anchor="end" fill="#111" font-weight="bold" >1.0</text>
<line x1="206.80" y1="297.10" x2="208.60" y2="297.10" stroke="#111" stroke-width="1" />
<text x="204.90" y="299.60" font-size="8" text-anchor="end" fill="#111" font-weight="bold" >1.5</text>
<line x1="206.80" y1="275.20" x2="208.60" y2="275.20" stroke="#111" stroke-width="1" />
<text x="204.90" y="277.70" font-size="8" text-anchor="end" fill="#111" font-weight="bold" >2.0</text>
<line x1="206.80" y1="253.30" x2="208.60" y2="253.30" stroke="#111" stroke-width="1" />
<text x="204.90" y="255.80" font-size="8" text-anchor="end" fill="#111" font-weight="bold" >2.5</text>
<line x1="206.80" y1="231.40" x2="208.60" y2="231.40" stroke="#111" stroke-width="1" />
<text x="204.90" y="233.90" font-size="8" text-anchor="end" fill="#111" font-weight="bold" >3.0</text>
<line x1="230.15" y1="362.80" x2="230.15" y2="365.40" stroke="#111" stroke-width="1" />
<line x1="273.70" y1="362.80" x2="273.70" y2="365.40" stroke="#111" stroke-width="1" />
<line x1="316.70" y1="362.80" x2="316.70" y2="365.40" stroke="#111" stroke-width="1" />
<path d="M274.70,239.60 L274.70,234.80 L319.90,234.80 L319.90,239.60" fill="none" stroke="#111" stroke-width="1.5" stroke-linejoin="round"/>
<text x="294.50" y="231.60" font-size="7.75" text-anchor="middle" fill="#111" font-weight="bold" >p = 0.004</text>
<text x="230.15" y="375.30" font-size="7.8" text-anchor="middle" fill="#111" font-weight="bold" >synBMT</text>
<text x="273.70" y="375.30" font-size="7.8" text-anchor="middle" fill="#111" font-weight="bold" >alloBMT</text>
<text x="316.70" y="375.30" font-size="7.8" text-anchor="middle" fill="#111" font-weight="bold" >alloBMT</text>
<text x="316.70" y="384.60" font-size="7.8" text-anchor="middle" fill="#111" font-weight="bold" >LDE223</text>
<text x="316.70" y="393.50" font-size="7.8" text-anchor="middle" fill="#111" font-weight="bold" >preventive</text>
<text x="0.00" y="0.00" font-size="7.92" text-anchor="middle" fill="#111" font-weight="bold" transform="translate(188.1,296.3) rotate(-90)">x-fold change in hydroxyproline content</text>
<text x="349.50" y="213.10" font-size="17.7" text-anchor="start" fill="#111" font-weight="bold" >E</text>
<rect x="394.80" y="321.00" width="29.20" height="42.00" fill="#cfcfcf" stroke="#1a1a1a" stroke-width="1"/>
<rect x="437.10" y="263.46" width="29.40" height="99.54" fill="#747474" stroke="#1a1a1a" stroke-width="1"/>
<rect x="480.30" y="321.00" width="28.50" height="42.00" fill="#242424" stroke="#1a1a1a" stroke-width="1"/>
<line x1="409.40" y1="315.54" x2="409.40" y2="326.46" stroke="#111" stroke-width="1.1" />
<line x1="405.40" y1="315.54" x2="413.40" y2="315.54" stroke="#111" stroke-width="1.1" />
<line x1="405.40" y1="326.46" x2="413.40" y2="326.46" stroke="#111" stroke-width="1.1" />
<line x1="451.80" y1="258.00" x2="451.80" y2="268.92" stroke="#111" stroke-width="1.1" />
<line x1="447.80" y1="258.00" x2="455.80" y2="258.00" stroke="#111" stroke-width="1.1" />
<line x1="447.80" y1="268.92" x2="455.80" y2="268.92" stroke="#111" stroke-width="1.1" />
<line x1="494.55" y1="318.06" x2="494.55" y2="323.94" stroke="#111" stroke-width="1.1" />
<line x1="490.55" y1="318.06" x2="498.55" y2="318.06" stroke="#111" stroke-width="1.1" />
<line x1="490.55" y1="323.94" x2="498.55" y2="323.94" stroke="#111" stroke-width="1.1" />
<line x1="388.20" y1="236.50" x2="388.20" y2="363.70" stroke="#111" stroke-width="1.4" />
<line x1="387.50" y1="363.00" x2="516.80" y2="363.00" stroke="#111" stroke-width="1.4" />
<line x1="386.40" y1="363.00" x2="388.20" y2="363.00" stroke="#111" stroke-width="1" />
<text x="384.50" y="365.50" font-size="8" text-anchor="end" fill="#111" font-weight="bold" >0.0</text>
<line x1="386.40" y1="342.00" x2="388.20" y2="342.00" stroke="#111" stroke-width="1" />
<text x="384.50" y="344.50" font-size="8" text-anchor="end" fill="#111" font-weight="bold" >0.5</text>
<line x1="386.40" y1="321.00" x2="388.20" y2="321.00" stroke="#111" stroke-width="1" />
<text x="384.50" y="323.50" font-size="8" text-anchor="end" fill="#111" font-weight="bold" >1.0</text>
<line x1="386.40" y1="300.00" x2="388.20" y2="300.00" stroke="#111" stroke-width="1" />
<text x="384.50" y="302.50" font-size="8" text-anchor="end" fill="#111" font-weight="bold" >1.5</text>
<line x1="386.40" y1="279.00" x2="388.20" y2="279.00" stroke="#111" stroke-width="1" />
<text x="384.50" y="281.50" font-size="8" text-anchor="end" fill="#111" font-weight="bold" >2.0</text>
<line x1="386.40" y1="258.00" x2="388.20" y2="258.00" stroke="#111" stroke-width="1" />
<text x="384.50" y="260.50" font-size="8" text-anchor="end" fill="#111" font-weight="bold" >2.5</text>
<line x1="386.40" y1="237.00" x2="388.20" y2="237.00" stroke="#111" stroke-width="1" />
<text x="384.50" y="239.50" font-size="8" text-anchor="end" fill="#111" font-weight="bold" >3.0</text>
<line x1="409.40" y1="363.00" x2="409.40" y2="365.60" stroke="#111" stroke-width="1" />
<line x1="451.80" y1="363.00" x2="451.80" y2="365.60" stroke="#111" stroke-width="1" />
<line x1="494.55" y1="363.00" x2="494.55" y2="365.60" stroke="#111" stroke-width="1" />
<path d="M451.50,251.60 L451.50,247.90 L495.30,247.90 L495.30,251.60" fill="none" stroke="#111" stroke-width="1.5" stroke-linejoin="round"/>
<text x="470.10" y="244.20" font-size="7.75" text-anchor="middle" fill="#111" font-weight="bold" >p = 0.001</text>
<text x="409.40" y="375.30" font-size="7.8" text-anchor="middle" fill="#111" font-weight="bold" >synBMT</text>
<text x="451.80" y="375.30" font-size="7.8" text-anchor="middle" fill="#111" font-weight="bold" >alloBMT</text>
<text x="494.55" y="375.30" font-size="7.8" text-anchor="middle" fill="#111" font-weight="bold" >alloBMT</text>
<text x="494.55" y="384.60" font-size="7.8" text-anchor="middle" fill="#111" font-weight="bold" >LDE223</text>
<text x="494.55" y="393.50" font-size="7.8" text-anchor="middle" fill="#111" font-weight="bold" >preventive</text>
<text x="0.00" y="0.00" font-size="8.05" text-anchor="middle" fill="#111" font-weight="bold" transform="translate(366,302.6) rotate(-90)">x-fold change in myofibroblasts</text>
</svg>
</body></html>
